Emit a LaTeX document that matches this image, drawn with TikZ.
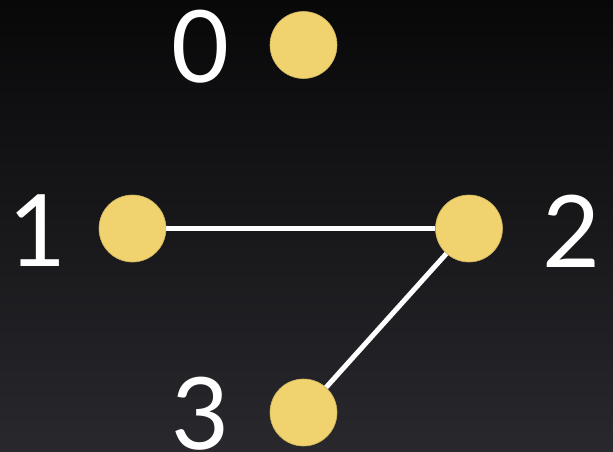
\documentclass[tikz,border=0pt]{standalone}
\usepackage{fontspec}
\setmainfont{Lato}
\definecolor{dotyellow}{RGB}{240,211,110}
\definecolor{bgtop}{RGB}{8,8,9}
\definecolor{bgbot}{RGB}{40,40,45}
\begin{document}
\begin{tikzpicture}[x=1pt,y=-1pt,
  dot/.style={circle,fill=dotyellow,draw=dotyellow!85!black,line width=0.6pt,minimum size=67pt,inner sep=0pt},
  lbl/.style={text=white,inner sep=0pt,font=\fontsize{100}{100}\selectfont},
  edge/.style={draw=white,line width=5pt}]
\shade[top color=bgtop,bottom color=bgbot] (0,0) rectangle (613,452);
\useasboundingbox (0,0) rectangle (613,452);
\node[dot] (n0) at (303.5,45) {};
\node[dot] (n1) at (132.5,228.5) {};
\node[dot] (n2) at (469,228.5) {};
\node[dot] (n3) at (303.5,412.5) {};
\node[lbl] (l0) at (200,47) {0};
\node[lbl] (l1) at (37.5,231) {1};
\node[lbl] (l2) at (571.5,231) {2};
\node[lbl] (l3) at (200,414) {3};
\draw[edge] (n1) -- (n2);
\draw[edge] (n2) -- (n3);
\end{tikzpicture}
\end{document}
